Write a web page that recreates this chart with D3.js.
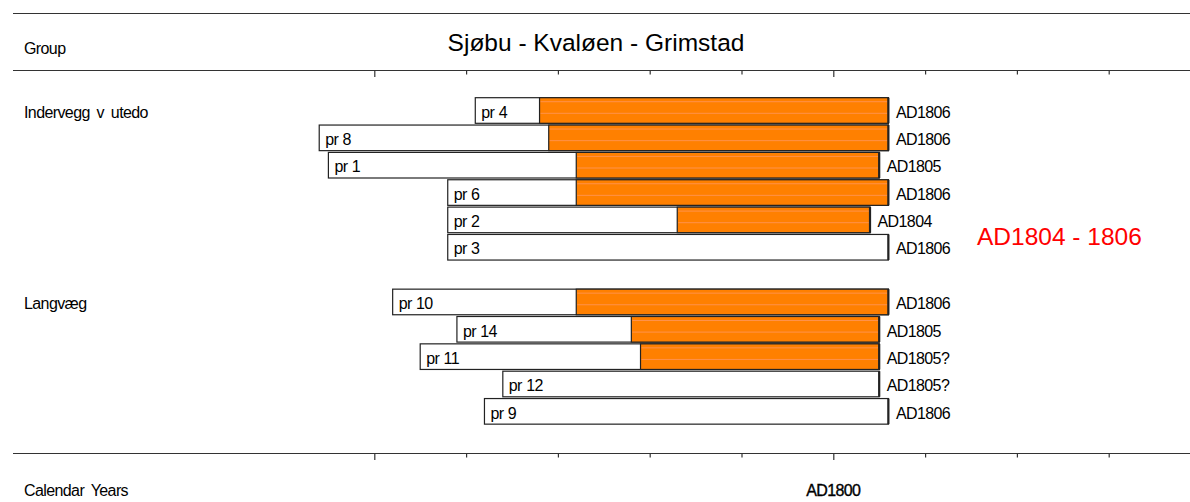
<!DOCTYPE html>
<html><head><meta charset="utf-8">
<script src="https://cdn.jsdelivr.net/npm/d3@7"></script>
<style>
html,body{margin:0;padding:0;background:#fff;}
svg{display:block;}
.lbl{font-family:"Liberation Sans",Arial,sans-serif;font-size:16px;letter-spacing:-0.6px;word-spacing:3px;fill:#000;}
.bl{word-spacing:0.5px;}
</style></head>
<body><svg id="c" width="1190" height="502"></svg>
<script>
const title = "Sjøbu - Kvaløen - Grimstad";
const groupNames = ["Indervegg v utedo", "Langvæg"];
const samples = ["pr 4","pr 8","pr 1","pr 6","pr 2","pr 3","pr 10","pr 14","pr 11","pr 12","pr 9"];
const sampleGroup = [0,0,0,0,0,0,1,1,1,1,1];
const startYear = [1761,1744,1745,1758,1758,1758,1752,1759,1755,1764,1762];
const sapwoodStart = [1768,1769,1772,1772,1783,null,1772,1778,1779,null,null];
const endYear = [1806,1806,1805,1806,1804,1806,1806,1805,1805,1805,1806];
const endLabels = ["AD1806","AD1806","AD1805","AD1806","AD1804","AD1806","AD1806","AD1805","AD1805?","AD1805?","AD1806"];
const tickYears = [1750,1760,1770,1780,1790,1800,1810,1820,1830];
const majorTicks = [1750,1800];
const tickLabelYears = [1800];
const tickLabels = ["AD1800"];
const summaryText = "AD1804 - 1806";

const svg = d3.select("#c");
const W = 1190;

// x scale: calendar years
const x = d3.scaleLinear().domain([1750,1800]).range([374.3,833.3]);

// rows, with a spacer between groups
const rowKeys = [];
samples.forEach((s,i)=>{
  if (i>0 && sampleGroup[i]!==sampleGroup[i-1]) rowKeys.push("__gap"+i);
  rowKeys.push(s);
});
const y = d3.scaleBand().domain(rowKeys).range([97.7, 424.15]).paddingInner(0.064).paddingOuter(0);
const bh = y.bandwidth();
const base = 20;

// frame lines
const lineColor = "#333";
[13.5, 70.5, 453.5].forEach(yy=>{
  svg.append("line").attr("x1",13).attr("x2",W).attr("y1",yy).attr("y2",yy)
    .attr("stroke",lineColor).attr("stroke-width",1.2);
});

// axes (top & bottom)
function drawAxis(yy){
  const g = svg.append("g").attr("transform",`translate(0,${yy})`)
    .call(d3.axisBottom(x).tickValues(tickYears).tickSize(4).tickFormat(""));
  g.select(".domain").remove();
  g.selectAll(".tick line").attr("stroke",lineColor).attr("stroke-width",1.2)
    .attr("y2", d=> majorTicks.includes(d) ? 6.5 : 4);
  return g;
}
drawAxis(70.5);
drawAxis(453.5);

// header texts
svg.append("text").attr("class","lbl").attr("x",24).attr("y",54).text("Group");
svg.append("text").attr("x",596).attr("y",50.5).attr("text-anchor","middle")
  .attr("font-family","Liberation Sans, Arial, sans-serif").attr("font-size",24.5)
  .attr("fill","#000").text(title);

// group labels
groupNames.forEach((gname,gi)=>{
  const first = samples[sampleGroup.indexOf(gi)];
  svg.append("text").attr("class","lbl").attr("x",24).attr("y",y(first)+base).text(gname);
});

// bars
const data = samples.map((s,i)=>({name:s,start:startYear[i],sap:sapwoodStart[i],end:endYear[i],label:endLabels[i]}));
const bars = svg.append("g").selectAll("g").data(data).join("g");
bars.append("rect")
  .attr("x",d=>x(d.start)).attr("y",d=>y(d.name))
  .attr("width",d=>x(d.end)-x(d.start)).attr("height",bh)
  .attr("fill","#fff").attr("stroke","#222").attr("stroke-width",1.2);
const sapBars = bars.filter(d=>d.sap!=null);
sapBars.append("rect")
  .attr("x",d=>x(d.sap)).attr("y",d=>y(d.name))
  .attr("width",d=>x(d.end)-x(d.sap)).attr("height",bh)
  .attr("fill","#FF8000").attr("stroke","#222").attr("stroke-width",1.2);
// faint texture lines inside orange
[4,15.6].forEach(off=>{
  sapBars.append("line")
    .attr("x1",d=>x(d.sap)+1).attr("x2",d=>x(d.end)-1)
    .attr("y1",d=>y(d.name)+off).attr("y2",d=>y(d.name)+off)
    .attr("stroke","#ff9a6a").attr("stroke-width",1).attr("opacity",0.7);
});
// thicker right edge
bars.append("line")
  .attr("x1",d=>x(d.end)).attr("x2",d=>x(d.end))
  .attr("y1",d=>y(d.name)).attr("y2",d=>y(d.name)+bh)
  .attr("stroke","#222").attr("stroke-width",2.2);
// sample names
bars.append("text").attr("class","lbl bl")
  .attr("x",d=>x(d.start)+6).attr("y",d=>y(d.name)+base).text(d=>d.name);
// end labels
bars.append("text").attr("class","lbl bl")
  .attr("x",d=>x(d.end)+7.5).attr("y",d=>y(d.name)+base).text(d=>d.label);

// summary
svg.append("text").attr("x",977).attr("y",245)
  .attr("font-family","Liberation Sans, Arial, sans-serif").attr("font-size",24.5)
  .attr("fill","#FF0000").text(summaryText);

// bottom labels
svg.append("text").attr("class","lbl").attr("x",24).attr("y",496).text("Calendar Years");
tickLabelYears.forEach((yr,i)=>{
  svg.append("text").attr("class","lbl").attr("x",x(yr)).attr("y",496)
    .attr("text-anchor","middle").attr("stroke","#000").attr("stroke-width",0.35)
    .text(tickLabels[i]);
});
</script></body></html>
